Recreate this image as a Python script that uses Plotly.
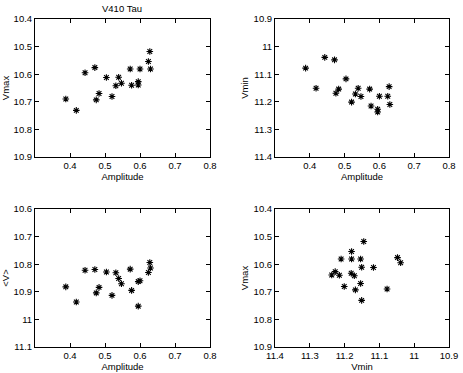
import plotly.graph_objects as go
from plotly.subplots import make_subplots

# V410 Tau light-curve parameters, one entry per season
amplitude = [0.388, 0.418, 0.443, 0.471, 0.475, 0.483, 0.504, 0.520, 0.531, 0.539,
             0.547, 0.572, 0.576, 0.600, 0.595, 0.595, 0.624, 0.628, 0.630]
vmax = [10.690, 10.731, 10.595, 10.576, 10.693, 10.670, 10.612, 10.681, 10.642, 10.611,
        10.633, 10.581, 10.640, 10.581, 10.627, 10.639, 10.554, 10.518, 10.581]
vmin = [11.078, 11.151, 11.039, 11.048, 11.169, 11.154, 11.117, 11.201, 11.172, 11.151,
        11.181, 11.154, 11.215, 11.180, 11.227, 11.237, 11.180, 11.145, 11.210]
vmean = [10.882, 10.937, 10.822, 10.819, 10.904, 10.884, 10.828, 10.913, 10.831, 10.852,
         10.871, 10.818, 10.895, 10.860, 10.863, 10.952, 10.830, 10.794, 10.814]

amp_ticks = [0.4, 0.5, 0.6, 0.7, 0.8]
vmax_ticks = [10.4, 10.5, 10.6, 10.7, 10.8, 10.9]
vmin_ticks = [10.9, 11.0, 11.1, 11.2, 11.3, 11.4]
vmean_ticks = [10.6, 10.7, 10.8, 10.9, 11.0, 11.1]


def lab(v):
    s = "%.1f" % v
    return s[:-2] if s.endswith(".0") else s


W, H = 463, 373
fig = make_subplots(rows=2, cols=2)

star = dict(symbol="asterisk-open", size=5.5, color="black",
            line=dict(color="black", width=1.1))

fig.add_trace(go.Scatter(x=amplitude, y=vmax, mode="markers", marker=star), row=1, col=1)
fig.add_trace(go.Scatter(x=amplitude, y=vmin, mode="markers", marker=star), row=1, col=2)
fig.add_trace(go.Scatter(x=amplitude, y=vmean, mode="markers", marker=star), row=2, col=1)
fig.add_trace(go.Scatter(x=vmin, y=vmax, mode="markers", marker=star), row=2, col=2)

font = dict(family="Liberation Sans, Arial, sans-serif", size=9.5, color="black")
ax = dict(showline=True, linecolor="black", linewidth=1, mirror="allticks",
          ticks="inside", ticklen=4, tickcolor="black", showgrid=False,
          zeroline=False, tickfont=font, title_font=font, automargin=False)

# panel boxes in pixels: left, right, top, bottom
boxes = [(35, 210, 19, 157), (275, 449, 19, 157), (35, 210, 209, 347), (275, 449, 209, 347)]
xspec = [("Amplitude", [0.3, 0.8], amp_ticks), ("Amplitude", [0.3, 0.8], amp_ticks),
         ("Amplitude", [0.3, 0.8], amp_ticks), ("Vmin", [11.4, 10.9], vmin_ticks)]
yspec = [("Vmax", [10.9, 10.4], vmax_ticks), ("Vmin", [11.4, 10.9], vmin_ticks),
         ("<V>", [11.1, 10.6], vmean_ticks), ("Vmax", [10.9, 10.4], vmax_ticks)]

lay = {}
for i, (b, xs, ys) in enumerate(zip(boxes, xspec, yspec)):
    n = "" if i == 0 else str(i + 1)
    l, r, t, bt = b
    lay["xaxis" + n] = dict(ax, domain=[l / W, r / W], range=xs[1],
                            tickvals=xs[2], ticktext=[lab(v) for v in xs[2]],
                            title=dict(text=xs[0], standoff=2))
    lay["yaxis" + n] = dict(ax, domain=[1 - bt / H, 1 - t / H], range=ys[1],
                            tickvals=ys[2], ticktext=[lab(v) for v in ys[2]],
                            title=dict(text=ys[0], standoff=3))

fig.update_layout(**lay)
fig.update_layout(
    width=W, height=H, margin=dict(l=0, r=0, t=0, b=0, autoexpand=False),
    paper_bgcolor="white", plot_bgcolor="white", showlegend=False,
    font=font, hovermode=False,
    title=dict(text="V410 Tau", x=122 / W, y=1 - 9 / H, xanchor="center",
               yanchor="middle", font=font),
)

# page body has an 8px default margin; drop it so the figure fills the window
fig.write_html("out.html", config={"displayModeBar": False},
               post_script="document.body.style.margin='0px';")
